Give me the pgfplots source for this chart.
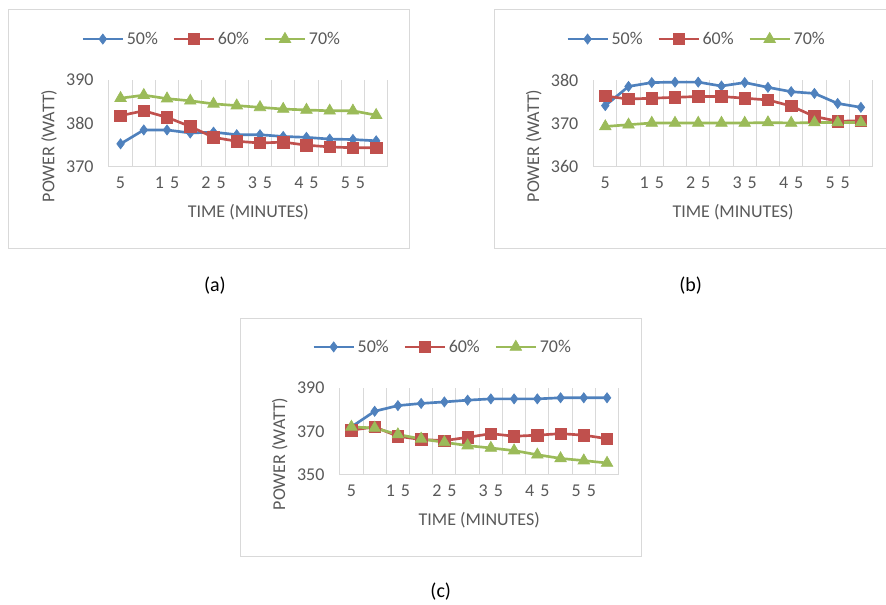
\documentclass[border=0pt]{standalone}
\usepackage{pgfplots}
\pgfplotsset{compat=1.18}
\usepackage{pgfplotstable}
\usepackage{fontspec}
\setmainfont{Carlito}
\definecolor{s50}{HTML}{4F81BD}
\definecolor{s60}{HTML}{C0504D}
\definecolor{s70}{HTML}{9BBB59}
\definecolor{txt}{HTML}{595959}
\definecolor{gridc}{HTML}{D9D9D9}

% x = 1..12 stands for 5, 10, ..., 60 minutes
\pgfplotstableread{
x a b c
1 375.3 381.8 385.8
2 378.5 382.9 386.5
3 378.5 381.4 385.7
4 377.8 379.3 385.2
5 378.0 376.8 384.5
6 377.4 375.9 384.1
7 377.4 375.5 383.7
8 377.0 375.7 383.3
9 376.8 375.0 383.1
10 376.4 374.6 382.9
11 376.3 374.4 382.9
12 376.0 374.4 381.9
}\dataA
\pgfplotstableread{
x a b c
1 374.1 376.3 369.3
2 378.5 375.6 369.7
3 379.4 375.8 370.1
4 379.5 376.0 370.1
5 379.5 376.2 370.1
6 378.6 376.2 370.1
7 379.4 375.8 370.1
8 378.3 375.4 370.2
9 377.3 374.0 370.1
10 376.9 371.6 370.2
11 374.6 370.5 370.2
12 373.7 370.6 370.2
}\dataB
\pgfplotstableread{
x a b c
1 372.0 370.5 372.0
2 379.2 372.0 371.5
3 381.8 367.7 368.5
4 382.8 366.2 366.5
5 383.5 365.7 364.9
6 384.3 367.2 363.4
7 384.9 368.9 362.3
8 384.9 367.7 361.1
9 384.9 368.2 359.2
10 385.4 368.9 357.5
11 385.4 368.2 356.5
12 385.4 366.6 355.4
}\dataC

\newcommand\px{0.75pt}
\newcommand\fnt{\fontsize{13.5}{15}\selectfont}

\pgfplotsset{
  panel/.style={
    scale only axis, width=209.25pt, height=65.25pt,
    anchor=south west, clip=false,
    xmin=0.5, xmax=12.5,
    xtick={1,3,5,7,9,11}, xticklabels={5,1\,\,5,2\,\,5,3\,\,5,4\,\,5,5\,\,5},
    minor xtick={0.5,1.5,...,12.5}, xminorgrids,
    minor grid style={gridc, line width=0.75pt},
    major tick length=0pt, minor tick length=0pt,
    axis line style={draw=none},
    tick label style={font=\fnt, text=txt},
    yticklabel style={xshift=-8pt}, xticklabel style={yshift=-4pt},
    /pgf/number format/assume math mode=true,
    xlabel={TIME (MINUTES)}, ylabel={POWER (WATT)},
    label style={font=\fnt, text=txt},
    xlabel style={at={(axis description cs:0.5,-0.517)}, anchor=center},
    ylabel style={at={(axis description cs:-0.215,0.24)}, anchor=center},
    legend columns=3,
    legend style={at={(axis description cs:0.37,1.47)}, anchor=center,
      draw=none, fill=none, font=\fnt, text=txt,
      /tikz/every even column/.append style={column sep=9pt}},
    legend image code/.code={\draw[mark repeat=2,mark phase=2,##1]
      plot coordinates {(0pt,0pt) (15pt,0pt) (30pt,0pt)};},
  },
  p50/.style={s50, line width=2pt, mark=diamond*, mark size=3.8pt,
    mark options={line width=0.5pt, fill=s50}},
  p60/.style={s60, line width=2pt, mark=square*, mark size=4.3pt,
    mark options={line width=0.5pt, fill=s60}},
  p70/.style={s70, line width=2pt, mark=triangle*, mark size=5pt,
    mark options={line width=0.5pt, fill=s70}},
}

\begin{document}
\begin{tikzpicture}
\path (0,0) rectangle (886*\px,-605*\px);
% panel frames
\draw[gridc, line width=0.75pt] (9*\px,-10*\px) rectangle (410*\px,-249*\px);
\draw[gridc, line width=0.75pt] (886*\px,-10*\px) -- (495*\px,-10*\px) -- (495*\px,-249*\px) -- (886*\px,-249*\px);
\draw[gridc, line width=0.75pt] (241*\px,-319*\px) rectangle (642*\px,-557*\px);

% (a)
\begin{axis}[panel, at={(109*\px,-167*\px)}, ymin=370, ymax=390, ytick={370,380,390}]
\draw[gridc, line width=0.75pt] (rel axis cs:0,0) -- (rel axis cs:1,0);
\addplot[p50] table[x=x, y=a] {\dataA};
\addplot[p60] table[x=x, y=b] {\dataA};
\addplot[p70] table[x=x, y=c] {\dataA};
\legend{50\%, 60\%, 70\%}
\end{axis}

% (b)
\begin{axis}[panel, at={(594*\px,-167*\px)}, ymin=360, ymax=380, ytick={360,370,380}]
\draw[gridc, line width=0.75pt] (rel axis cs:0,0) -- (rel axis cs:1,0);
\addplot[p50] table[x=x, y=a] {\dataB};
\addplot[p60] table[x=x, y=b] {\dataB};
\addplot[p70] table[x=x, y=c] {\dataB};
\legend{50\%, 60\%, 70\%}
\end{axis}

% (c)
\begin{axis}[panel, at={(340*\px,-475*\px)}, ymin=350, ymax=390, ytick={350,370,390}]
\draw[gridc, line width=0.75pt] (rel axis cs:0,0) -- (rel axis cs:1,0);
\addplot[p50] table[x=x, y=a] {\dataC};
\addplot[p60] table[x=x, y=b] {\dataC};
\addplot[p70] table[x=x, y=c] {\dataC};
\legend{50\%, 60\%, 70\%}
\end{axis}

\node[font=\fontsize{15}{17}\selectfont] at (215*\px,-286*\px) {(a)};
\node[font=\fontsize{15}{17}\selectfont] at (691*\px,-286*\px) {(b)};
\node[font=\fontsize{15}{17}\selectfont] at (441*\px,-592*\px) {(c)};
\end{tikzpicture}
\end{document}
